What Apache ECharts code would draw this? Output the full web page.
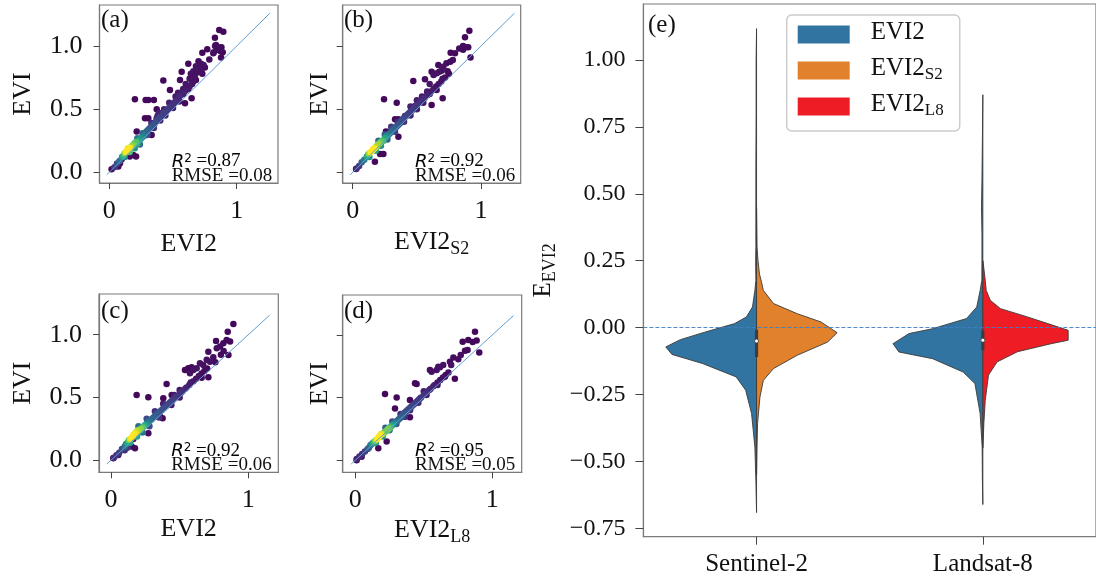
<!DOCTYPE html>
<html><head><meta charset="utf-8">
<script src="https://cdn.jsdelivr.net/npm/echarts@6/dist/echarts.min.js"></script>
<style>html,body{margin:0;padding:0;background:#fff}#c{width:1096px;height:583px}</style>
</head><body><div id="c"></div>
<script>
// ---------- DATA ----------
// scatter points [x, y, density(0..1)]
const pointsA = [
[0.04,0.04,.15],[0.06,0.07,.2],[0.08,0.09,.3],[0.10,0.12,.45],[0.11,0.13,.55],[0.12,0.15,.7],[0.13,0.16,.85],[0.14,0.17,.95],[0.15,0.18,1.0],[0.145,0.19,.9],[0.16,0.19,.85],[0.17,0.20,.75],[0.18,0.21,.7],[0.19,0.22,.65],[0.20,0.23,.6],[0.21,0.24,.62],[0.22,0.23,.55],[0.23,0.25,.5],[0.24,0.26,.45],[0.25,0.27,.42],[0.26,0.28,.38],[0.27,0.29,.35],[0.28,0.30,.3],[0.29,0.32,.28],[0.30,0.33,.26],[0.31,0.34,.25],[0.32,0.35,.24],[0.33,0.36,.22],[0.34,0.37,.22],[0.35,0.38,.2],[0.36,0.39,.2],[0.37,0.41,.18],[0.38,0.42,.18],[0.39,0.43,.17],[0.40,0.44,.17],[0.42,0.46,.16],[0.43,0.47,.16],[0.44,0.48,.15],[0.45,0.49,.15],[0.46,0.50,.14],[0.47,0.51,.14],[0.48,0.52,.13],[0.50,0.54,.12],[0.51,0.55,.12],[0.52,0.56,.11],[0.53,0.57,.1],[0.54,0.58,.1],[0.55,0.60,.1],[0.56,0.61,.08],[0.58,0.62,.08],[0.59,0.64,.07],[0.60,0.65,.06],[0.62,0.66,.05],[0.63,0.68,.05],[0.65,0.70,.04],[0.66,0.72,.04],[0.68,0.73,.03],
[0.12,0.12,.4],[0.16,0.16,.6],[0.2,0.19,.45],[0.24,0.22,.3],[0.3,0.3,.2],[0.26,0.31,.3],[0.22,0.27,.35],[0.35,0.35,.12],[0.4,0.41,.1],[0.44,0.45,.08],[0.5,0.51,.06],[0.33,0.39,.1],[0.38,0.45,.08],[0.55,0.56,.05],
[0.863,1.127,.02],[0.895,1.113,.02],[0.829,1.066,.02],[0.73,0.947,.02],[0.769,0.974,.02],[0.837,1.008,.03],[0.83,1.0,.03],[0.86,0.99,.03],[0.87,0.96,.03],[0.85,0.97,.03],[0.89,0.95,.02],[0.88,0.99,.02],[0.82,0.95,.03],[0.816,0.942,.03],[0.877,0.91,.02],[0.785,0.894,.03],[0.70,0.88,.03],[0.72,0.86,.04],[0.74,0.85,.04],[0.68,0.84,.04],[0.71,0.82,.04],[0.66,0.80,.04],[0.69,0.79,.04],[0.64,0.78,.04],[0.67,0.76,.04],[0.63,0.74,.04],[0.72,0.80,.04],[0.75,0.83,.03],[0.73,0.78,.03],[0.62,0.86,.02],[0.568,0.797,.02],[0.555,0.731,.03],[0.424,0.726,.02],[0.476,0.652,.02],[0.646,0.586,.02],[0.594,0.546,.02],[0.201,0.578,.02],[0.285,0.573,.02],[0.306,0.573,.02],[0.35,0.573,.02],[0.372,0.499,.02],[0.28,0.427,.02],[0.306,0.427,.02],[0.372,0.427,.02],[0.215,0.322,.02],[0.293,0.296,.02],[0.332,0.296,.02],[0.188,0.137,.02],[0.084,0.071,.03],[0.018,0.024,.02],[0.071,0.045,.03],[0.123,0.124,.05],[0.097,0.103,.05],[0.16,0.124,.03],[0.21,0.124,.02],[0.6,0.7,.05],[0.58,0.66,.05],[0.54,0.63,.06],[0.52,0.6,.06],[0.47,0.55,.08],[0.43,0.5,.08],[0.39,0.47,.08]
];
const pointsB = [
[0.03,0.03,.1],[0.05,0.05,.15],[0.07,0.08,.25],[0.09,0.1,.35],[0.11,0.12,.5],[0.12,0.14,.6],[0.13,0.15,.75],[0.14,0.16,.9],[0.155,0.175,1],[0.16,0.185,.95],[0.17,0.19,.85],[0.18,0.2,.75],[0.19,0.21,.7],[0.2,0.22,.72],[0.21,0.23,.68],[0.22,0.24,.62],[0.23,0.25,.6],[0.24,0.25,.55],[0.25,0.27,.5],[0.26,0.28,.42],[0.27,0.29,.38],[0.28,0.3,.33],[0.29,0.31,.3],[0.3,0.32,.28],[0.31,0.33,.27],[0.32,0.34,.26],[0.33,0.35,.25],[0.34,0.36,.24],[0.35,0.37,.22],[0.36,0.38,.22],[0.37,0.39,.2],[0.38,0.41,.2],[0.39,0.42,.19],[0.4,0.43,.18],[0.41,0.44,.17],[0.42,0.45,.17],[0.43,0.46,.16],[0.44,0.47,.16],[0.45,0.48,.15],[0.46,0.49,.15],[0.47,0.5,.14],[0.48,0.51,.14],[0.49,0.52,.13],[0.5,0.53,.13],[0.52,0.55,.12],[0.53,0.56,.11],[0.55,0.58,.1],[0.56,0.59,.09],[0.58,0.61,.08],[0.6,0.62,.07],[0.61,0.64,.06],[0.63,0.66,.05],[0.65,0.68,.04],[0.67,0.7,.04],[0.69,0.72,.03],[0.72,0.75,.03],[0.75,0.78,.02],
[0.13,0.12,.4],[0.18,0.17,.5],[0.22,0.21,.4],[0.27,0.26,.25],[0.33,0.32,.15],[0.2,0.25,.3],[0.25,0.3,.25],[0.3,0.36,.15],[0.35,0.4,.1],[0.4,0.4,.1],[0.45,0.45,.08],[0.5,0.5,.06],[0.55,0.55,.05],
[0.909,1.121,.02],[0.875,1.069,.02],[0.86,1.0,.03],[0.88,0.99,.03],[0.90,0.99,.02],[0.83,0.98,.03],[0.86,0.97,.03],[0.763,0.947,.02],[0.797,0.942,.02],[0.918,0.91,.02],[0.78,0.89,.03],[0.76,0.876,.03],[0.73,0.863,.03],[0.706,0.836,.04],[0.693,0.805,.04],[0.675,0.797,.04],[0.655,0.784,.04],[0.63,0.77,.04],[0.615,0.797,.03],[0.667,0.85,.03],[0.563,0.736,.03],[0.472,0.723,.02],[0.654,0.652,.02],[0.701,0.586,.02],[0.615,0.533,.02],[0.244,0.578,.02],[0.343,0.551,.02],[0.33,0.42,.02],[0.356,0.42,.02],[0.408,0.446,.03],[0.486,0.525,.04],[0.259,0.322,.02],[0.291,0.322,.02],[0.356,0.282,.02],[0.173,0.084,.02],[0.213,0.145,.02],[0.239,0.145,.02],[0.026,0.026,.03],[0.114,0.124,.05],[0.6,0.7,.05],[0.58,0.64,.06],[0.54,0.6,.06],[0.5,0.57,.07],[0.45,0.52,.08],[0.7,0.74,.04],[0.74,0.8,.03]
];
const pointsC = [
[0.02,0.02,.1],[0.04,0.04,.12],[0.06,0.06,.15],[0.08,0.09,.2],[0.1,0.11,.3],[0.11,0.13,.4],[0.12,0.14,.5],[0.13,0.16,.65],[0.14,0.17,.8],[0.15,0.18,.9],[0.16,0.19,1],[0.165,0.205,.95],[0.17,0.21,.9],[0.18,0.22,.8],[0.19,0.23,.75],[0.2,0.24,.72],[0.21,0.24,.7],[0.22,0.25,.68],[0.23,0.26,.62],[0.24,0.27,.55],[0.25,0.28,.48],[0.26,0.29,.4],[0.27,0.3,.35],[0.28,0.31,.3],[0.29,0.32,.28],[0.3,0.33,.27],[0.31,0.34,.26],[0.32,0.35,.25],[0.33,0.36,.24],[0.34,0.37,.23],[0.35,0.38,.22],[0.36,0.39,.22],[0.37,0.4,.2],[0.38,0.41,.2],[0.39,0.42,.19],[0.4,0.43,.19],[0.41,0.44,.18],[0.42,0.45,.17],[0.43,0.46,.17],[0.44,0.47,.16],[0.45,0.48,.15],[0.46,0.49,.15],[0.47,0.5,.14],[0.48,0.51,.13],[0.5,0.53,.12],[0.51,0.54,.11],[0.52,0.55,.1],[0.54,0.57,.09],[0.55,0.58,.08],[0.57,0.6,.07],[0.58,0.62,.06],[0.6,0.63,.05],[0.62,0.65,.04],[0.64,0.67,.04],[0.66,0.69,.03],[0.68,0.71,.03],[0.7,0.73,.02],
[0.14,0.14,.5],[0.19,0.19,.5],[0.23,0.22,.35],[0.28,0.27,.2],[0.35,0.34,.12],[0.2,0.27,.3],[0.26,0.33,.2],[0.32,0.39,.12],[0.38,0.45,.08],[0.44,0.44,.07],[0.5,0.5,.05],[0.12,0.1,.15],[0.1,0.08,.1],
[0.891,1.085,.02],[0.85,1.024,.02],[0.842,0.958,.02],[0.867,0.945,.02],[0.818,0.932,.02],[0.765,0.95,.02],[0.794,0.905,.03],[0.77,0.892,.03],[0.709,0.865,.03],[0.745,0.82,.03],[0.855,0.838,.02],[0.697,0.8,.04],[0.721,0.785,.04],[0.648,0.772,.04],[0.672,0.759,.04],[0.624,0.732,.04],[0.6,0.719,.04],[0.575,0.692,.04],[0.539,0.719,.02],[0.563,0.732,.02],[0.587,0.74,.02],[0.66,0.658,.02],[0.709,0.661,.02],[0.405,0.607,.02],[0.187,0.52,.02],[0.272,0.501,.02],[0.381,0.494,.02],[0.442,0.52,.02],[0.357,0.348,.02],[0.376,0.334,.02],[0.272,0.215,.03],[0.163,0.17,.05],[0.151,0.109,.02],[0.175,0.095,.02],[0.017,0.016,.03],[0.053,0.042,.03],[0.76,0.78,.03],[0.8,0.84,.03],[0.82,0.87,.03],[0.5,0.56,.05],[0.46,0.52,.06]
];
const pointsD = [
[0.01,0.01,.08],[0.03,0.03,.1],[0.05,0.05,.12],[0.07,0.07,.15],[0.09,0.09,.2],[0.1,0.1,.25],[0.11,0.12,.3],[0.12,0.13,.4],[0.13,0.14,.5],[0.14,0.15,.6],[0.15,0.16,.75],[0.16,0.17,.85],[0.17,0.18,.95],[0.175,0.19,1],[0.18,0.2,.9],[0.19,0.21,.8],[0.2,0.21,.7],[0.21,0.22,.65],[0.22,0.23,.62],[0.23,0.24,.65],[0.24,0.25,.68],[0.25,0.26,.62],[0.26,0.27,.55],[0.27,0.28,.48],[0.28,0.29,.4],[0.29,0.3,.35],[0.3,0.31,.3],[0.31,0.32,.28],[0.32,0.33,.26],[0.33,0.34,.25],[0.34,0.35,.24],[0.35,0.37,.23],[0.36,0.38,.22],[0.37,0.39,.21],[0.38,0.4,.2],[0.39,0.41,.19],[0.4,0.42,.18],[0.41,0.43,.18],[0.42,0.44,.17],[0.43,0.45,.16],[0.44,0.46,.16],[0.45,0.47,.15],[0.46,0.48,.14],[0.47,0.49,.14],[0.48,0.5,.13],[0.5,0.52,.12],[0.51,0.53,.11],[0.52,0.54,.1],[0.54,0.56,.09],[0.55,0.57,.08],[0.57,0.59,.07],[0.58,0.6,.06],[0.6,0.62,.05],[0.62,0.64,.04],[0.64,0.66,.04],[0.66,0.68,.03],[0.68,0.7,.03],
[0.15,0.14,.4],[0.2,0.19,.45],[0.25,0.24,.35],[0.3,0.29,.2],[0.36,0.35,.12],[0.22,0.26,.25],[0.27,0.31,.2],[0.33,0.37,.12],[0.4,0.4,.1],[0.46,0.46,.07],[0.52,0.52,.05],[0.6,0.6,.04],
[0.874,1.025,.02],[0.886,0.955,.02],[0.857,0.944,.02],[0.825,0.96,.02],[0.784,0.946,.02],[0.801,0.874,.02],[0.905,0.861,.02],[0.716,0.82,.03],[0.752,0.806,.03],[0.691,0.787,.03],[0.642,0.76,.04],[0.618,0.742,.04],[0.594,0.72,.04],[0.557,0.707,.04],[0.545,0.72,.03],[0.606,0.747,.04],[0.727,0.651,.02],[0.654,0.667,.02],[0.436,0.614,.02],[0.448,0.609,.02],[0.217,0.529,.02],[0.302,0.5,.02],[0.399,0.481,.02],[0.29,0.414,.02],[0.362,0.348,.02],[0.399,0.343,.02],[0.229,0.149,.02],[0.168,0.095,.02],[0.01,0.0,.03],[0.046,0.029,.03],[0.77,0.84,.03],[0.82,0.88,.03],[0.7,0.76,.04],[0.5,0.55,.06]
];
// 1:1 reference lines [x, y]
const lineAB = [[-0.02,-0.02],[1.26,1.26]];
const lineCD = [[-0.03,-0.03],[1.155,1.155]];
// statistics texts
const r2Values = ['0.87','0.92','0.92','0.95'];
const rmseValues = ['0.08','0.06','0.06','0.05'];
const panelLetters = ['(a)','(b)','(c)','(d)','(e)'];

// violin panel
const categories = ['Sentinel-2','Landsat-8'];
// half profiles [value, half-width as fraction of category band]
const evi2ProfileS2 = [[1.117,0],[1.0,0.002],[0.8,0.002],[0.6,0.003],[0.4,0.003],[0.3,0.003],[0.25,0.004],[0.177,0.003],[0.139,0.0074],[0.077,0.018],[0.040,0.045],[0.015,0.097],[-0.016,0.225],[-0.045,0.337],[-0.072,0.401],[-0.100,0.374],[-0.134,0.239],[-0.184,0.090],[-0.234,0.048],[-0.321,0.022],[-0.446,0.0074],[-0.570,0.003],[-0.691,0]];
const evi2ProfileL8 = [[0.870,0],[0.7,0.002],[0.55,0.004],[0.45,0.006],[0.35,0.004],[0.25,0.004],[0.177,0.0044],[0.139,0.012],[0.077,0.027],[0.034,0.072],[-0.004,0.222],[-0.022,0.326],[-0.060,0.397],[-0.091,0.371],[-0.116,0.222],[-0.166,0.087],[-0.209,0.035],[-0.321,0.012],[-0.446,0.003],[-0.57,0.002],[-0.661,0]];
const evi2S2Profile = [[0.45,0],[0.301,0.002],[0.25,0.0066],[0.20,0.013],[0.17,0.022],[0.139,0.030],[0.090,0.075],[0.052,0.180],[0.021,0.285],[-0.019,0.356],[-0.054,0.314],[-0.103,0.180],[-0.153,0.075],[-0.197,0.030],[-0.259,0.015],[-0.359,0.0044],[-0.446,0.002],[-0.55,0]];
const evi2L8Profile = [[0.25,0],[0.239,0.002],[0.177,0.0105],[0.139,0.015],[0.102,0.033],[0.071,0.078],[0.040,0.197],[0.015,0.287],[-0.010,0.377],[-0.047,0.377],[-0.060,0.302],[-0.090,0.153],[-0.128,0.063],[-0.177,0.025],[-0.272,0.0105],[-0.359,0.0044],[-0.45,0]];
// inner box stats per category
const boxQ1 = [-0.110,-0.085];
const boxQ3 = [-0.008,-0.010];
const boxMedian = [-0.050,-0.047];
const violinTicks = [-0.75,-0.5,-0.25,0,0.25,0.5,0.75,1.0];

// ---------- CHART ----------
const SERIF = 'Liberation Serif';
const viridis = ['#440154','#482878','#3e4989','#31688e','#26828e','#1f9e89','#35b779','#6ece58','#b5de2b','#fde725'];
const textCol = '#111';
const spine = '#7a7a7a';
const subRich = {
  m:{fontFamily:SERIF,fontSize:26,color:textCol,lineHeight:26,padding:[0,0,3,0],verticalAlign:'bottom'},
  s:{fontFamily:SERIF,fontSize:18,color:textCol,lineHeight:18,verticalAlign:'bottom'}
};
const grids = [
  {left:99.5, top:5, width:178.5, height:178},
  {left:342.7, top:5, width:178, height:178},
  {left:99, top:294, width:179.3, height:178.3},
  {left:342.7, top:295, width:179, height:177.3},
  {left:643.4, top:4, width:457.4, height:532.7}
].map(g => Object.assign({show:true, borderColor:spine, borderWidth:1.2, backgroundColor:'transparent'}, g));

const xr = [[-0.077,1.324],[-0.078,1.309],[-0.087,1.218],[-0.092,1.215]];
const yr = [[-0.085,1.325],[-0.085,1.325],[-0.096,1.324],[-0.096,1.319]];
const xNames = ['EVI2','{m|EVI2}{s|S2}','EVI2','{m|EVI2}{s|L8}'];
const xGaps = [48, 49, 44, 48];
const yGaps = [63, 10, 63, 10];

const xAxes = [], yAxes = [];
for (let i = 0; i < 4; i++) {
  xAxes.push({
    type:'value', gridIndex:i, min:xr[i][0], max:xr[i][1],
    name:xNames[i], nameLocation:'middle', nameGap:xGaps[i],
    nameTextStyle:{fontFamily:SERIF, fontSize:26, color:textCol, rich:subRich},
    axisLine:{show:true, onZero:false, lineStyle:{color:spine, width:1.2}},
    axisTick:{show:true, customValues:[0,1], length:6, lineStyle:{color:'#444'}},
    axisLabel:{customValues:[0,1], fontFamily:SERIF, fontSize:26, color:textCol, margin:15, formatter:v=>String(Math.round(v))},
    splitLine:{show:false}
  });
  yAxes.push({
    type:'value', gridIndex:i, min:yr[i][0], max:yr[i][1],
    name:'EVI', nameLocation:'middle', nameGap:yGaps[i], nameRotate:90,
    nameTextStyle:{fontFamily:SERIF, fontSize:26, color:textCol},
    axisLine:{show:true, onZero:false, lineStyle:{color:spine, width:1.2}},
    axisTick:{show:true, customValues:[0,0.5,1], length:6, lineStyle:{color:'#444'}},
    axisLabel:{show: i % 2 === 0, customValues:[0,0.5,1], fontFamily:SERIF, fontSize:26, color:textCol, margin:17, formatter:v=>v.toFixed(1)},
    splitLine:{show:false}
  });
}
xAxes.push({
  type:'category', gridIndex:4, data:categories, boundaryGap:true,
  axisLine:{show:true, onZero:false, lineStyle:{color:spine, width:1.2}},
  axisTick:{show:true, alignWithLabel:true, length:8, lineStyle:{color:'#444'}},
  axisLabel:{fontFamily:SERIF, fontSize:25, color:textCol, margin:15},
  splitLine:{show:false}
});
yAxes.push({
  type:'value', gridIndex:4, min:-0.781, max:1.209,
  name:'{m|E}{s|EVI2}', nameLocation:'middle', nameGap:84, nameRotate:90,
  nameTextStyle:{fontFamily:SERIF, fontSize:25, color:textCol, rich:{
    m:{fontFamily:SERIF,fontSize:25,color:textCol,lineHeight:25,padding:[0,0,3,0],verticalAlign:'bottom'},
    s:{fontFamily:SERIF,fontSize:18,color:textCol,lineHeight:18,verticalAlign:'bottom'}}},
  axisLine:{show:true, onZero:false, lineStyle:{color:spine, width:1.2}},
  axisTick:{show:true, customValues:violinTicks, length:8, lineStyle:{color:'#444'}},
  axisLabel:{customValues:violinTicks, fontFamily:SERIF, fontSize:24, color:textCol, margin:18,
    formatter:v=>(v < -1e-9 ? '\u2212' : '') + Math.abs(v).toFixed(2)},
  splitLine:{show:false}
});

const sortByDensity = arr => arr.slice().sort((a,b)=>a[2]-b[2]);
const pointSets = [pointsA, pointsB, pointsC, pointsD];
const series = [];
pointSets.forEach((pts, i) => {
  series.push({type:'scatter', xAxisIndex:i, yAxisIndex:i, data:sortByDensity(pts), symbolSize:6.5, itemStyle:{opacity:1}, silent:true, z:2});
});
[lineAB, lineAB, lineCD, lineCD].forEach((ln, i) => {
  series.push({type:'line', xAxisIndex:i, yAxisIndex:i, data:ln, showSymbol:false, silent:true, z:3,
    lineStyle:{color:'#5b9fd6', width:1}});
});

function halfViolin(profiles, side, color) {
  return function(params, api) {
    const cat = api.value(0);
    const prof = profiles[params.dataIndex];
    const c0 = api.coord([0, 0]), c1 = api.coord([1, 0]);
    const bw = Math.abs(c1[0] - c0[0]);
    const pts = [];
    const top = api.coord([cat, prof[0][0]]);
    pts.push([top[0], top[1]]);
    prof.forEach(([v, w]) => {
      const p = api.coord([cat, v]);
      pts.push([p[0] + side * w * bw, p[1]]);
    });
    const bot = api.coord([cat, prof[prof.length - 1][0]]);
    pts.push([bot[0], bot[1]]);
    return {type:'polygon', shape:{points:pts}, style:{fill:color, stroke:'#3a3a3a', lineWidth:0.9}};
  };
}
const blue = '#3274a1', orange = '#e1812c', red = '#ee1d25';
series.push({
  name:'EVI2', type:'custom', xAxisIndex:4, yAxisIndex:4, silent:true, z:2,
  itemStyle:{color:blue},
  data:[[0,0],[1,0]], encode:{x:0,y:1},
  renderItem:halfViolin([evi2ProfileS2, evi2ProfileL8], -1, blue)
});
series.push({
  name:'EVI2_S2', type:'custom', xAxisIndex:4, yAxisIndex:4, silent:true, z:2,
  itemStyle:{color:orange},
  data:[[0,0]], encode:{x:0,y:1},
  renderItem:halfViolin([evi2S2Profile], 1, orange)
});
series.push({
  name:'EVI2_L8', type:'custom', xAxisIndex:4, yAxisIndex:4, silent:true, z:2,
  itemStyle:{color:red},
  data:[[1,0]], encode:{x:0,y:1},
  renderItem:halfViolin([evi2L8Profile], 1, red)
});
series.push({
  type:'custom', xAxisIndex:4, yAxisIndex:4, silent:true, z:4,
  data:categories.map((c, i) => [i, boxQ1[i], boxQ3[i], boxMedian[i]]),
  encode:{x:0, y:[1,2,3]},
  renderItem:function(params, api){
    const cat = api.value(0);
    const p1 = api.coord([cat, api.value(1)]);
    const p3 = api.coord([cat, api.value(2)]);
    const pm = api.coord([cat, api.value(3)]);
    return {type:'group', children:[
      {type:'rect', shape:{x:p1[0]-1.6, y:p3[1], width:3.2, height:p1[1]-p3[1]}, style:{fill:'#3d3d3d'}},
      {type:'circle', shape:{cx:pm[0], cy:pm[1], r:2}, style:{fill:'#ffffff', stroke:'#3d3d3d', lineWidth:0.8}}
    ]};
  },
  markLine:{silent:true, symbol:['none','none'], label:{show:false},
    lineStyle:{type:[4,2], color:'#3d7fc4', width:0.9},
    data:[{yAxis:0}]}
});

const legendNames = {'EVI2':'{g|}{m|EVI2}', 'EVI2_S2':'{g|}{m|EVI2}{s|S2}', 'EVI2_L8':'{g|}{m|EVI2}{s|L8}'};
const legRich = {
  g:{width:16},
  m:{fontFamily:SERIF,fontSize:25,color:textCol,lineHeight:25,padding:[0,0,2,0],verticalAlign:'bottom'},
  s:{fontFamily:SERIF,fontSize:17,color:textCol,lineHeight:17,verticalAlign:'bottom'}
};

function statText(i) {
  const g = grids[i];
  const x = g.left + 72.2;
  const yb = g.top + g.height;
  return [
    {type:'text', x:x, y:yb - 21, silent:true, z:10, style:{
      text:'{r|R}{p|2}{t| =' + r2Values[i] + '}', verticalAlign:'middle', align:'left',
      rich:{
        r:{fontFamily:'DejaVu Sans', fontStyle:'italic', fontSize:18, color:textCol, lineHeight:18, padding:[6,0,0,0], verticalAlign:'bottom'},
        p:{fontFamily:'DejaVu Sans', fontSize:12, color:textCol, lineHeight:12, verticalAlign:'top'},
        t:{fontFamily:SERIF, fontSize:19, color:textCol, lineHeight:18, padding:[6,0,0,0], verticalAlign:'bottom'}
      }}},
    {type:'text', x:x, y:yb - 6.8, silent:true, z:10, style:{
      text:'RMSE =' + rmseValues[i], fontFamily:SERIF, fontSize:19, fill:textCol, verticalAlign:'middle', align:'left'}}
  ];
}
const letterPos = [[101,20],[344,20],[101,311],[344,311],[648,25]];
const graphics = [];
panelLetters.forEach((t, i) => graphics.push({type:'text', x:letterPos[i][0], y:letterPos[i][1], silent:true, z:10,
  style:{text:t, fontFamily:SERIF, fontSize:25, fill:textCol, verticalAlign:'middle', align:'left'}}));
for (let i = 0; i < 4; i++) graphics.push(...statText(i));

const chart = echarts.init(document.getElementById('c'), null, {renderer:'canvas'});
chart.setOption({
  animation:false,
  backgroundColor:'#ffffff',
  grid:grids,
  xAxis:xAxes,
  yAxis:yAxes,
  visualMap:{type:'continuous', show:false, min:0, max:0.85, dimension:2, seriesIndex:[0,1,2,3], inRange:{color:viridis}},
  legend:{
    data:['EVI2','EVI2_S2','EVI2_L8'], orient:'vertical', left:786.7, top:15,
    icon:'rect', itemWidth:52, itemHeight:18, itemGap:9,
    padding:[5,16,12,11], borderColor:'#cccccc', borderWidth:1.5, borderRadius:5,
    backgroundColor:'rgba(255,255,255,0.85)', selectedMode:false,
    formatter:n => legendNames[n],
    textStyle:{fontFamily:SERIF, fontSize:25, color:textCol, rich:legRich},
    itemStyle:{borderWidth:0}
  },
  graphic:graphics,
  series:series
});
</script>
</body></html>
